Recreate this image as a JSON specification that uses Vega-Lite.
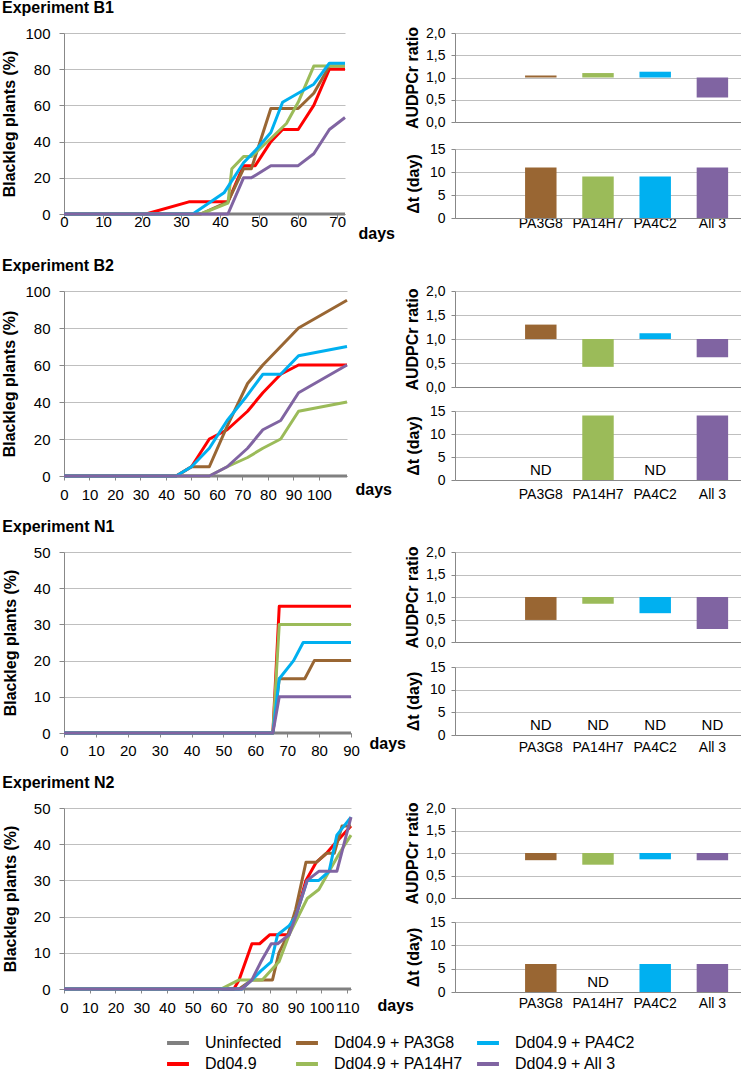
{
"$schema": "https://vega.github.io/schema/vega-lite/v6.json",
"padding": {"left": 1, "top": 0, "right": 0, "bottom": 0},
"background": "white",
"config": {
  "font": "Liberation Sans",
  "view": {"stroke": null},
  "axis": {"domainColor": "#888888", "tickColor": "#888888", "gridColor": "#BFBFBF", "labelColor": "#000000", "titleColor": "#000000", "labelFlush": false, "labelOverlap": false, "labelFont": "Liberation Sans", "titleFont": "Liberation Sans"},
  "title": {"fontSize": 16, "fontWeight": "bold", "anchor": "start", "color": "#000000", "font": "Liberation Sans"}
},
"datasets": {
  "b1": [
    {"d":0,"p":0,"s":"Uninfected"},{"d":72,"p":0,"s":"Uninfected"},
    {"d":0,"p":0,"s":"Dd04.9"},{"d":21,"p":0,"s":"Dd04.9"},{"d":32,"p":6.7,"s":"Dd04.9"},{"d":42,"p":6.7,"s":"Dd04.9"},{"d":46,"p":26.7,"s":"Dd04.9"},{"d":49,"p":26.7,"s":"Dd04.9"},{"d":53,"p":40,"s":"Dd04.9"},{"d":56,"p":46.7,"s":"Dd04.9"},{"d":60,"p":46.7,"s":"Dd04.9"},{"d":64,"p":60,"s":"Dd04.9"},{"d":68,"p":80,"s":"Dd04.9"},{"d":72,"p":80,"s":"Dd04.9"},
    {"d":0,"p":0,"s":"Dd04.9 + PA3G8"},{"d":35,"p":0,"s":"Dd04.9 + PA3G8"},{"d":42,"p":6.7,"s":"Dd04.9 + PA3G8"},{"d":46,"p":25,"s":"Dd04.9 + PA3G8"},{"d":48,"p":25,"s":"Dd04.9 + PA3G8"},{"d":53,"p":58.3,"s":"Dd04.9 + PA3G8"},{"d":60,"p":58.3,"s":"Dd04.9 + PA3G8"},{"d":64,"p":66.7,"s":"Dd04.9 + PA3G8"},{"d":68,"p":81.7,"s":"Dd04.9 + PA3G8"},{"d":72,"p":81.7,"s":"Dd04.9 + PA3G8"},
    {"d":0,"p":0,"s":"Dd04.9 + PA14H7"},{"d":35,"p":0,"s":"Dd04.9 + PA14H7"},{"d":42,"p":6,"s":"Dd04.9 + PA14H7"},{"d":43,"p":25,"s":"Dd04.9 + PA14H7"},{"d":46,"p":31.7,"s":"Dd04.9 + PA14H7"},{"d":48,"p":31.7,"s":"Dd04.9 + PA14H7"},{"d":53,"p":41.7,"s":"Dd04.9 + PA14H7"},{"d":57,"p":50,"s":"Dd04.9 + PA14H7"},{"d":60,"p":61.7,"s":"Dd04.9 + PA14H7"},{"d":64,"p":81.7,"s":"Dd04.9 + PA14H7"},{"d":72,"p":81.7,"s":"Dd04.9 + PA14H7"},
    {"d":0,"p":0,"s":"Dd04.9 + PA4C2"},{"d":33,"p":0,"s":"Dd04.9 + PA4C2"},{"d":41,"p":11.7,"s":"Dd04.9 + PA4C2"},{"d":46,"p":28.3,"s":"Dd04.9 + PA4C2"},{"d":49,"p":35,"s":"Dd04.9 + PA4C2"},{"d":53,"p":45,"s":"Dd04.9 + PA4C2"},{"d":56,"p":61.7,"s":"Dd04.9 + PA4C2"},{"d":60,"p":66.7,"s":"Dd04.9 + PA4C2"},{"d":64,"p":71.7,"s":"Dd04.9 + PA4C2"},{"d":68,"p":83.3,"s":"Dd04.9 + PA4C2"},{"d":72,"p":83.3,"s":"Dd04.9 + PA4C2"},
    {"d":0,"p":0,"s":"Dd04.9 + All 3"},{"d":42,"p":0,"s":"Dd04.9 + All 3"},{"d":46,"p":20,"s":"Dd04.9 + All 3"},{"d":48,"p":20,"s":"Dd04.9 + All 3"},{"d":53,"p":26.7,"s":"Dd04.9 + All 3"},{"d":60,"p":26.7,"s":"Dd04.9 + All 3"},{"d":64,"p":33.3,"s":"Dd04.9 + All 3"},{"d":68,"p":46.7,"s":"Dd04.9 + All 3"},{"d":72,"p":53.3,"s":"Dd04.9 + All 3"}
  ],
  "b2": [
    {"d":0,"p":0,"s":"Uninfected"},{"d":111,"p":0,"s":"Uninfected"},
    {"d":0,"p":0,"s":"Dd04.9"},{"d":44,"p":0,"s":"Dd04.9"},{"d":50,"p":5,"s":"Dd04.9"},{"d":57,"p":20,"s":"Dd04.9"},{"d":64,"p":25,"s":"Dd04.9"},{"d":72,"p":35,"s":"Dd04.9"},{"d":78,"p":45,"s":"Dd04.9"},{"d":85,"p":55,"s":"Dd04.9"},{"d":92,"p":60,"s":"Dd04.9"},{"d":111,"p":60,"s":"Dd04.9"},
    {"d":0,"p":0,"s":"Dd04.9 + PA3G8"},{"d":44,"p":0,"s":"Dd04.9 + PA3G8"},{"d":50,"p":5,"s":"Dd04.9 + PA3G8"},{"d":57,"p":5,"s":"Dd04.9 + PA3G8"},{"d":64,"p":27,"s":"Dd04.9 + PA3G8"},{"d":72,"p":50,"s":"Dd04.9 + PA3G8"},{"d":78,"p":60,"s":"Dd04.9 + PA3G8"},{"d":85,"p":70,"s":"Dd04.9 + PA3G8"},{"d":92,"p":80,"s":"Dd04.9 + PA3G8"},{"d":111,"p":95,"s":"Dd04.9 + PA3G8"},
    {"d":0,"p":0,"s":"Dd04.9 + PA14H7"},{"d":57,"p":0,"s":"Dd04.9 + PA14H7"},{"d":64,"p":5,"s":"Dd04.9 + PA14H7"},{"d":72,"p":10,"s":"Dd04.9 + PA14H7"},{"d":78,"p":15,"s":"Dd04.9 + PA14H7"},{"d":85,"p":20,"s":"Dd04.9 + PA14H7"},{"d":92,"p":35,"s":"Dd04.9 + PA14H7"},{"d":111,"p":40,"s":"Dd04.9 + PA14H7"},
    {"d":0,"p":0,"s":"Dd04.9 + PA4C2"},{"d":44,"p":0,"s":"Dd04.9 + PA4C2"},{"d":50,"p":5,"s":"Dd04.9 + PA4C2"},{"d":57,"p":15,"s":"Dd04.9 + PA4C2"},{"d":64,"p":30,"s":"Dd04.9 + PA4C2"},{"d":71,"p":42,"s":"Dd04.9 + PA4C2"},{"d":78,"p":55,"s":"Dd04.9 + PA4C2"},{"d":85,"p":55,"s":"Dd04.9 + PA4C2"},{"d":92,"p":65,"s":"Dd04.9 + PA4C2"},{"d":111,"p":70,"s":"Dd04.9 + PA4C2"},
    {"d":0,"p":0,"s":"Dd04.9 + All 3"},{"d":57,"p":0,"s":"Dd04.9 + All 3"},{"d":64,"p":5,"s":"Dd04.9 + All 3"},{"d":72,"p":15,"s":"Dd04.9 + All 3"},{"d":78,"p":25,"s":"Dd04.9 + All 3"},{"d":85,"p":30,"s":"Dd04.9 + All 3"},{"d":92,"p":45,"s":"Dd04.9 + All 3"},{"d":111,"p":60,"s":"Dd04.9 + All 3"}
  ],
  "n1": [
    {"d":0,"p":0,"s":"Uninfected"},{"d":90,"p":0,"s":"Uninfected"},
    {"d":0,"p":0,"s":"Dd04.9"},{"d":65.5,"p":0,"s":"Dd04.9"},{"d":67.5,"p":35,"s":"Dd04.9"},{"d":90,"p":35,"s":"Dd04.9"},
    {"d":0,"p":0,"s":"Dd04.9 + PA3G8"},{"d":65.5,"p":0,"s":"Dd04.9 + PA3G8"},{"d":67.5,"p":15,"s":"Dd04.9 + PA3G8"},{"d":75.5,"p":15,"s":"Dd04.9 + PA3G8"},{"d":78.5,"p":20,"s":"Dd04.9 + PA3G8"},{"d":90,"p":20,"s":"Dd04.9 + PA3G8"},
    {"d":0,"p":0,"s":"Dd04.9 + PA14H7"},{"d":65.5,"p":0,"s":"Dd04.9 + PA14H7"},{"d":67.5,"p":30,"s":"Dd04.9 + PA14H7"},{"d":90,"p":30,"s":"Dd04.9 + PA14H7"},
    {"d":0,"p":0,"s":"Dd04.9 + PA4C2"},{"d":65.5,"p":0,"s":"Dd04.9 + PA4C2"},{"d":67.5,"p":15,"s":"Dd04.9 + PA4C2"},{"d":72,"p":20,"s":"Dd04.9 + PA4C2"},{"d":75,"p":25,"s":"Dd04.9 + PA4C2"},{"d":90,"p":25,"s":"Dd04.9 + PA4C2"},
    {"d":0,"p":0,"s":"Dd04.9 + All 3"},{"d":65.5,"p":0,"s":"Dd04.9 + All 3"},{"d":67.5,"p":10,"s":"Dd04.9 + All 3"},{"d":90,"p":10,"s":"Dd04.9 + All 3"}
  ],
  "n2": [
    {"d":0,"p":0,"s":"Uninfected"},{"d":111.5,"p":0,"s":"Uninfected"},
    {"d":0,"p":0,"s":"Dd04.9"},{"d":66,"p":0,"s":"Dd04.9"},{"d":68,"p":2.5,"s":"Dd04.9"},{"d":73,"p":12.5,"s":"Dd04.9"},{"d":76,"p":12.5,"s":"Dd04.9"},{"d":80,"p":15,"s":"Dd04.9"},{"d":83,"p":15,"s":"Dd04.9"},{"d":87,"p":15,"s":"Dd04.9"},{"d":90,"p":20,"s":"Dd04.9"},{"d":94,"p":30,"s":"Dd04.9"},{"d":98,"p":35,"s":"Dd04.9"},{"d":102,"p":37.5,"s":"Dd04.9"},{"d":105,"p":40,"s":"Dd04.9"},{"d":111.5,"p":45,"s":"Dd04.9"},
    {"d":0,"p":0,"s":"Dd04.9 + PA3G8"},{"d":68,"p":0,"s":"Dd04.9 + PA3G8"},{"d":73,"p":2.5,"s":"Dd04.9 + PA3G8"},{"d":81,"p":2.5,"s":"Dd04.9 + PA3G8"},{"d":83.5,"p":10,"s":"Dd04.9 + PA3G8"},{"d":87,"p":15,"s":"Dd04.9 + PA3G8"},{"d":90,"p":22,"s":"Dd04.9 + PA3G8"},{"d":94,"p":35,"s":"Dd04.9 + PA3G8"},{"d":98,"p":35,"s":"Dd04.9 + PA3G8"},{"d":102,"p":37.5,"s":"Dd04.9 + PA3G8"},{"d":105,"p":37.5,"s":"Dd04.9 + PA3G8"},{"d":108,"p":45,"s":"Dd04.9 + PA3G8"},{"d":111.5,"p":45,"s":"Dd04.9 + PA3G8"},
    {"d":0,"p":0,"s":"Dd04.9 + PA14H7"},{"d":61,"p":0,"s":"Dd04.9 + PA14H7"},{"d":68,"p":2.5,"s":"Dd04.9 + PA14H7"},{"d":77,"p":2.5,"s":"Dd04.9 + PA14H7"},{"d":83.5,"p":7.5,"s":"Dd04.9 + PA14H7"},{"d":87.5,"p":15,"s":"Dd04.9 + PA14H7"},{"d":94.5,"p":25,"s":"Dd04.9 + PA14H7"},{"d":99,"p":27.5,"s":"Dd04.9 + PA14H7"},{"d":103,"p":32.5,"s":"Dd04.9 + PA14H7"},{"d":107,"p":37.5,"s":"Dd04.9 + PA14H7"},{"d":111.5,"p":42.5,"s":"Dd04.9 + PA14H7"},
    {"d":0,"p":0,"s":"Dd04.9 + PA4C2"},{"d":69,"p":0,"s":"Dd04.9 + PA4C2"},{"d":73,"p":2.5,"s":"Dd04.9 + PA4C2"},{"d":76.5,"p":5,"s":"Dd04.9 + PA4C2"},{"d":80.5,"p":7.5,"s":"Dd04.9 + PA4C2"},{"d":83,"p":15,"s":"Dd04.9 + PA4C2"},{"d":87.5,"p":17.5,"s":"Dd04.9 + PA4C2"},{"d":90,"p":20,"s":"Dd04.9 + PA4C2"},{"d":94.5,"p":30,"s":"Dd04.9 + PA4C2"},{"d":99,"p":30,"s":"Dd04.9 + PA4C2"},{"d":103,"p":32.5,"s":"Dd04.9 + PA4C2"},{"d":106,"p":42.5,"s":"Dd04.9 + PA4C2"},{"d":111.5,"p":47.5,"s":"Dd04.9 + PA4C2"},
    {"d":0,"p":0,"s":"Dd04.9 + All 3"},{"d":69,"p":0,"s":"Dd04.9 + All 3"},{"d":73,"p":2.5,"s":"Dd04.9 + All 3"},{"d":76.5,"p":7.5,"s":"Dd04.9 + All 3"},{"d":80.5,"p":12.5,"s":"Dd04.9 + All 3"},{"d":83,"p":12.5,"s":"Dd04.9 + All 3"},{"d":87.5,"p":15,"s":"Dd04.9 + All 3"},{"d":90,"p":20,"s":"Dd04.9 + All 3"},{"d":94.5,"p":30,"s":"Dd04.9 + All 3"},{"d":99,"p":32.5,"s":"Dd04.9 + All 3"},{"d":103,"p":32.5,"s":"Dd04.9 + All 3"},{"d":106,"p":32.5,"s":"Dd04.9 + All 3"},{"d":111.5,"p":47.5,"s":"Dd04.9 + All 3"}
  ],
  "b1bar": [
    {"iso":"PA3G8","s":"Dd04.9 + PA3G8","audpc":1.045,"dt":11,"note":""},
    {"iso":"PA14H7","s":"Dd04.9 + PA14H7","audpc":1.10,"dt":9,"note":""},
    {"iso":"PA4C2","s":"Dd04.9 + PA4C2","audpc":1.13,"dt":9,"note":""},
    {"iso":"All 3","s":"Dd04.9 + All 3","audpc":0.55,"dt":11,"note":""}
  ],
  "b2bar": [
    {"iso":"PA3G8","s":"Dd04.9 + PA3G8","audpc":1.30,"dt":null,"note":"ND"},
    {"iso":"PA14H7","s":"Dd04.9 + PA14H7","audpc":0.42,"dt":14,"note":""},
    {"iso":"PA4C2","s":"Dd04.9 + PA4C2","audpc":1.12,"dt":null,"note":"ND"},
    {"iso":"All 3","s":"Dd04.9 + All 3","audpc":0.62,"dt":14,"note":""}
  ],
  "n1bar": [
    {"iso":"PA3G8","s":"Dd04.9 + PA3G8","audpc":0.49,"dt":null,"note":"ND"},
    {"iso":"PA14H7","s":"Dd04.9 + PA14H7","audpc":0.85,"dt":null,"note":"ND"},
    {"iso":"PA4C2","s":"Dd04.9 + PA4C2","audpc":0.64,"dt":null,"note":"ND"},
    {"iso":"All 3","s":"Dd04.9 + All 3","audpc":0.29,"dt":null,"note":"ND"}
  ],
  "n2bar": [
    {"iso":"PA3G8","s":"Dd04.9 + PA3G8","audpc":0.84,"dt":6,"note":""},
    {"iso":"PA14H7","s":"Dd04.9 + PA14H7","audpc":0.74,"dt":null,"note":"ND"},
    {"iso":"PA4C2","s":"Dd04.9 + PA4C2","audpc":0.86,"dt":6,"note":""},
    {"iso":"All 3","s":"Dd04.9 + All 3","audpc":0.84,"dt":6,"note":""}
  ]
},
"spacing": 17,
"vconcat": [
  {
    "title": {"text": "Experiment B1", "offset": 10},
    "spacing": 110, "bounds": "flush",
    "hconcat": [
      {
        "width": 281, "height": 181,
        "data": {"name": "b1"},
        "mark": {"type": "line", "strokeWidth": 3, "strokeJoin": "round"},
        "encoding": {
          "x": {"field": "d", "type": "quantitative", "scale": {"domain": [0, 72], "nice": false, "zero": false},
                "axis": {"values": [0,10,20,30,40,50,60,70], "grid": false, "title": "days", "titleFontSize": 16, "titleFontWeight": "bold", "titleAlign": "left", "titleBaseline": "middle", "titleX": 294, "titleY": 19, "labelFontSize": 15, "tickSize": 4, "labelPadding": -4}},
          "y": {"field": "p", "type": "quantitative", "scale": {"domain": [0, 100], "nice": false},
                "axis": {"values": [0,20,40,60,80,100], "title": "Blackleg plants (%)", "titleFontSize": 16, "titleFontWeight": "bold", "labelFontSize": 15, "tickSize": 5, "labelPadding": 9, "titlePadding": 7}},
          "color": {"field": "s", "type": "nominal",
                    "scale": {"domain": ["Uninfected","Dd04.9","Dd04.9 + PA3G8","Dd04.9 + PA14H7","Dd04.9 + PA4C2","Dd04.9 + All 3"], "range": ["#808080","#FF0000","#996633","#9BBB59","#00B0F0","#8064A2"]},
                    "legend": {"title": null, "orient": "none", "legendX": 101, "legendY": 997, "columns": 3, "symbolType": "stroke", "symbolStrokeWidth": 4, "symbolSize": 480, "labelFontSize": 16, "labelOffset": 14, "columnPadding": 6, "rowPadding": 0, "labelColor": "#000000"}}
        }
      },
      {
        "spacing": 27, "bounds": "flush",
        "vconcat": [
          {
            "width": 286, "height": 89,
            "data": {"name": "b1bar"},
            "mark": {"type": "bar"},
            "encoding": {
              "x": {"field": "iso", "type": "nominal", "scale": {"domain": [" ","PA3G8","PA14H7","PA4C2","All 3"], "paddingInner": 0.45, "paddingOuter": 0.225}, "axis": {"labels": false, "ticks": false, "title": null}},
              "y": {"field": "audpc", "type": "quantitative", "scale": {"domain": [0, 2], "nice": false}, "axis": {"values": [0,0.5,1,1.5,2], "labelExpr": "replace(format(datum.value,'.1f'),'.',',')", "title": "AUDPCr ratio", "titleFontSize": 16, "titleFontWeight": "bold", "labelFontSize": 14, "tickSize": 4, "labelPadding": 6, "titlePadding": 5}},
              "y2": {"datum": 1},
              "fill": {"field": "s", "type": "nominal", "scale": {"domain": ["Uninfected","Dd04.9","Dd04.9 + PA3G8","Dd04.9 + PA14H7","Dd04.9 + PA4C2","Dd04.9 + All 3"], "range": ["#808080","#FF0000","#996633","#9BBB59","#00B0F0","#8064A2"]}, "legend": null}
            }
          },
          {
            "width": 286, "height": 69,
            "data": {"name": "b1bar"},
            "encoding": {
              "x": {"field": "iso", "type": "nominal", "scale": {"domain": [" ","PA3G8","PA14H7","PA4C2","All 3"], "paddingInner": 0.45, "paddingOuter": 0.225}, "axis": {"ticks": false, "title": null, "labelAngle": 0, "labelFontSize": 14, "labelPadding": -2}}
            },
            "layer": [
              {
                "mark": {"type": "bar"},
                "encoding": {
                  "y": {"field": "dt", "type": "quantitative", "scale": {"domain": [0, 15], "nice": false}, "axis": {"values": [0,5,10,15], "title": "Δt (day)", "titleFontSize": 16, "titleFontWeight": "bold", "labelFontSize": 14, "tickSize": 4, "labelPadding": 6, "titlePadding": 8}},
                  "fill": {"field": "s", "type": "nominal", "scale": {"domain": ["Uninfected","Dd04.9","Dd04.9 + PA3G8","Dd04.9 + PA14H7","Dd04.9 + PA4C2","Dd04.9 + All 3"], "range": ["#808080","#FF0000","#996633","#9BBB59","#00B0F0","#8064A2"]}, "legend": null}
                }
              },
              {
                "transform": [{"filter": "datum.note == 'ND'"}],
                "mark": {"type": "text", "fontSize": 15, "baseline": "middle", "color": "#000000"},
                "encoding": {"y": {"datum": 2.2, "type": "quantitative", "axis": {"values": [0,5,10,15], "title": "Δt (day)", "titleFontSize": 16, "titleFontWeight": "bold", "labelFontSize": 14, "tickSize": 4, "labelPadding": 6, "titlePadding": 8}}, "text": {"field": "note"}}
              }
            ]
          }
        ]
      }
    ]
  },
  {
    "title": {"text": "Experiment B2", "offset": 10},
    "spacing": 108, "bounds": "flush",
    "hconcat": [
      {
        "width": 283, "height": 185,
        "data": {"name": "b2"},
        "mark": {"type": "line", "strokeWidth": 3, "strokeJoin": "round"},
        "encoding": {
          "x": {"field": "d", "type": "quantitative", "scale": {"domain": [0, 111], "nice": false, "zero": false},
                "axis": {"values": [0,10,20,30,40,50,60,70,80,90,100], "grid": false, "title": "days", "titleFontSize": 16, "titleFontWeight": "bold", "titleAlign": "left", "titleBaseline": "middle", "titleX": 291, "titleY": 13, "labelFontSize": 15, "tickSize": 4, "labelPadding": 7}},
          "y": {"field": "p", "type": "quantitative", "scale": {"domain": [0, 100], "nice": false},
                "axis": {"values": [0,20,40,60,80,100], "title": "Blackleg plants (%)", "titleFontSize": 16, "titleFontWeight": "bold", "labelFontSize": 15, "tickSize": 5, "labelPadding": 9, "titlePadding": 7}},
          "color": {"field": "s", "type": "nominal",
                    "scale": {"domain": ["Uninfected","Dd04.9","Dd04.9 + PA3G8","Dd04.9 + PA14H7","Dd04.9 + PA4C2","Dd04.9 + All 3"], "range": ["#808080","#FF0000","#996633","#9BBB59","#00B0F0","#8064A2"]},
                    "legend": {"title": null, "orient": "none", "legendX": 101, "legendY": 997, "columns": 3, "symbolType": "stroke", "symbolStrokeWidth": 4, "symbolSize": 480, "labelFontSize": 16, "labelOffset": 14, "columnPadding": 6, "rowPadding": 0, "labelColor": "#000000"}}
        }
      },
      {
        "spacing": 24, "bounds": "flush",
        "vconcat": [
          {
            "width": 286, "height": 96,
            "data": {"name": "b2bar"},
            "mark": {"type": "bar"},
            "encoding": {
              "x": {"field": "iso", "type": "nominal", "scale": {"domain": [" ","PA3G8","PA14H7","PA4C2","All 3"], "paddingInner": 0.45, "paddingOuter": 0.225}, "axis": {"labels": false, "ticks": false, "title": null}},
              "y": {"field": "audpc", "type": "quantitative", "scale": {"domain": [0, 2], "nice": false}, "axis": {"values": [0,0.5,1,1.5,2], "labelExpr": "replace(format(datum.value,'.1f'),'.',',')", "title": "AUDPCr ratio", "titleFontSize": 16, "titleFontWeight": "bold", "labelFontSize": 14, "tickSize": 4, "labelPadding": 6, "titlePadding": 5}},
              "y2": {"datum": 1},
              "fill": {"field": "s", "type": "nominal", "scale": {"domain": ["Uninfected","Dd04.9","Dd04.9 + PA3G8","Dd04.9 + PA14H7","Dd04.9 + PA4C2","Dd04.9 + All 3"], "range": ["#808080","#FF0000","#996633","#9BBB59","#00B0F0","#8064A2"]}, "legend": null}
            }
          },
          {
            "width": 286, "height": 69,
            "data": {"name": "b2bar"},
            "encoding": {
              "x": {"field": "iso", "type": "nominal", "scale": {"domain": [" ","PA3G8","PA14H7","PA4C2","All 3"], "paddingInner": 0.45, "paddingOuter": 0.225}, "axis": {"ticks": false, "title": null, "labelAngle": 0, "labelFontSize": 14, "labelPadding": 7}}
            },
            "layer": [
              {
                "mark": {"type": "bar"},
                "encoding": {
                  "y": {"field": "dt", "type": "quantitative", "scale": {"domain": [0, 15], "nice": false}, "axis": {"values": [0,5,10,15], "title": "Δt (day)", "titleFontSize": 16, "titleFontWeight": "bold", "labelFontSize": 14, "tickSize": 4, "labelPadding": 6, "titlePadding": 8}},
                  "fill": {"field": "s", "type": "nominal", "scale": {"domain": ["Uninfected","Dd04.9","Dd04.9 + PA3G8","Dd04.9 + PA14H7","Dd04.9 + PA4C2","Dd04.9 + All 3"], "range": ["#808080","#FF0000","#996633","#9BBB59","#00B0F0","#8064A2"]}, "legend": null}
                }
              },
              {
                "transform": [{"filter": "datum.note == 'ND'"}],
                "mark": {"type": "text", "fontSize": 15, "baseline": "middle", "color": "#000000"},
                "encoding": {"y": {"datum": 2.2, "type": "quantitative", "axis": {"values": [0,5,10,15], "title": "Δt (day)", "titleFontSize": 16, "titleFontWeight": "bold", "labelFontSize": 14, "tickSize": 4, "labelPadding": 6, "titlePadding": 8}}, "text": {"field": "note"}}
              }
            ]
          }
        ]
      }
    ]
  },
  {
    "title": {"text": "Experiment N1", "offset": 10},
    "spacing": 104, "bounds": "flush",
    "hconcat": [
      {
        "width": 287, "height": 181,
        "data": {"name": "n1"},
        "mark": {"type": "line", "strokeWidth": 3, "strokeJoin": "round"},
        "encoding": {
          "x": {"field": "d", "type": "quantitative", "scale": {"domain": [0, 90], "nice": false, "zero": false},
                "axis": {"values": [0,10,20,30,40,50,60,70,80,90], "grid": false, "title": "days", "titleFontSize": 16, "titleFontWeight": "bold", "titleAlign": "left", "titleBaseline": "middle", "titleX": 305, "titleY": 10, "labelFontSize": 15, "tickSize": 4, "labelPadding": 6}},
          "y": {"field": "p", "type": "quantitative", "scale": {"domain": [0, 50], "nice": false},
                "axis": {"values": [0,10,20,30,40,50], "title": "Blackleg plants (%)", "titleFontSize": 16, "titleFontWeight": "bold", "labelFontSize": 15, "tickSize": 5, "labelPadding": 9, "titlePadding": 15}},
          "color": {"field": "s", "type": "nominal",
                    "scale": {"domain": ["Uninfected","Dd04.9","Dd04.9 + PA3G8","Dd04.9 + PA14H7","Dd04.9 + PA4C2","Dd04.9 + All 3"], "range": ["#808080","#FF0000","#996633","#9BBB59","#00B0F0","#8064A2"]},
                    "legend": {"title": null, "orient": "none", "legendX": 101, "legendY": 997, "columns": 3, "symbolType": "stroke", "symbolStrokeWidth": 4, "symbolSize": 480, "labelFontSize": 16, "labelOffset": 14, "columnPadding": 6, "rowPadding": 0, "labelColor": "#000000"}}
        }
      },
      {
        "spacing": 25, "bounds": "flush",
        "vconcat": [
          {
            "width": 286, "height": 90,
            "data": {"name": "n1bar"},
            "mark": {"type": "bar"},
            "encoding": {
              "x": {"field": "iso", "type": "nominal", "scale": {"domain": [" ","PA3G8","PA14H7","PA4C2","All 3"], "paddingInner": 0.45, "paddingOuter": 0.225}, "axis": {"labels": false, "ticks": false, "title": null}},
              "y": {"field": "audpc", "type": "quantitative", "scale": {"domain": [0, 2], "nice": false}, "axis": {"values": [0,0.5,1,1.5,2], "labelExpr": "replace(format(datum.value,'.1f'),'.',',')", "title": "AUDPCr ratio", "titleFontSize": 16, "titleFontWeight": "bold", "labelFontSize": 14, "tickSize": 4, "labelPadding": 6, "titlePadding": 5}},
              "y2": {"datum": 1},
              "fill": {"field": "s", "type": "nominal", "scale": {"domain": ["Uninfected","Dd04.9","Dd04.9 + PA3G8","Dd04.9 + PA14H7","Dd04.9 + PA4C2","Dd04.9 + All 3"], "range": ["#808080","#FF0000","#996633","#9BBB59","#00B0F0","#8064A2"]}, "legend": null}
            }
          },
          {
            "width": 286, "height": 68,
            "data": {"name": "n1bar"},
            "encoding": {
              "x": {"field": "iso", "type": "nominal", "scale": {"domain": [" ","PA3G8","PA14H7","PA4C2","All 3"], "paddingInner": 0.45, "paddingOuter": 0.225}, "axis": {"ticks": false, "title": null, "labelAngle": 0, "labelFontSize": 14, "labelPadding": 5}}
            },
            "layer": [
              {
                "mark": {"type": "bar"},
                "encoding": {
                  "y": {"field": "dt", "type": "quantitative", "scale": {"domain": [0, 15], "nice": false}, "axis": {"values": [0,5,10,15], "title": "Δt (day)", "titleFontSize": 16, "titleFontWeight": "bold", "labelFontSize": 14, "tickSize": 4, "labelPadding": 6, "titlePadding": 8}},
                  "fill": {"field": "s", "type": "nominal", "scale": {"domain": ["Uninfected","Dd04.9","Dd04.9 + PA3G8","Dd04.9 + PA14H7","Dd04.9 + PA4C2","Dd04.9 + All 3"], "range": ["#808080","#FF0000","#996633","#9BBB59","#00B0F0","#8064A2"]}, "legend": null}
                }
              },
              {
                "transform": [{"filter": "datum.note == 'ND'"}],
                "mark": {"type": "text", "fontSize": 15, "baseline": "middle", "color": "#000000"},
                "encoding": {"y": {"datum": 2.2, "type": "quantitative", "axis": {"values": [0,5,10,15], "title": "Δt (day)", "titleFontSize": 16, "titleFontWeight": "bold", "labelFontSize": 14, "tickSize": 4, "labelPadding": 6, "titlePadding": 8}}, "text": {"field": "note"}}
              }
            ]
          }
        ]
      }
    ]
  },
  {
    "title": {"text": "Experiment N2", "offset": 10},
    "spacing": 104, "bounds": "flush",
    "hconcat": [
      {
        "width": 287, "height": 181,
        "data": {"name": "n2"},
        "mark": {"type": "line", "strokeWidth": 3, "strokeJoin": "round"},
        "encoding": {
          "x": {"field": "d", "type": "quantitative", "scale": {"domain": [0, 111.5], "nice": false, "zero": false},
                "axis": {"values": [0,10,20,30,40,50,60,70,80,90,100,110], "grid": false, "title": "days", "titleFontSize": 16, "titleFontWeight": "bold", "titleAlign": "left", "titleBaseline": "middle", "titleX": 313, "titleY": 16, "labelFontSize": 15, "tickSize": 4, "labelPadding": 7}},
          "y": {"field": "p", "type": "quantitative", "scale": {"domain": [0, 50], "nice": false},
                "axis": {"values": [0,10,20,30,40,50], "title": "Blackleg plants (%)", "titleFontSize": 16, "titleFontWeight": "bold", "labelFontSize": 15, "tickSize": 5, "labelPadding": 9, "titlePadding": 15}},
          "color": {"field": "s", "type": "nominal",
                    "scale": {"domain": ["Uninfected","Dd04.9","Dd04.9 + PA3G8","Dd04.9 + PA14H7","Dd04.9 + PA4C2","Dd04.9 + All 3"], "range": ["#808080","#FF0000","#996633","#9BBB59","#00B0F0","#8064A2"]},
                    "legend": {"title": null, "orient": "none", "legendX": 101, "legendY": 997, "columns": 3, "symbolType": "stroke", "symbolStrokeWidth": 4, "symbolSize": 480, "labelFontSize": 16, "labelOffset": 14, "columnPadding": 6, "rowPadding": 0, "labelColor": "#000000"}}
        }
      },
      {
        "spacing": 24, "bounds": "flush",
        "vconcat": [
          {
            "width": 286, "height": 90,
            "data": {"name": "n2bar"},
            "mark": {"type": "bar"},
            "encoding": {
              "x": {"field": "iso", "type": "nominal", "scale": {"domain": [" ","PA3G8","PA14H7","PA4C2","All 3"], "paddingInner": 0.45, "paddingOuter": 0.225}, "axis": {"labels": false, "ticks": false, "title": null}},
              "y": {"field": "audpc", "type": "quantitative", "scale": {"domain": [0, 2], "nice": false}, "axis": {"values": [0,0.5,1,1.5,2], "labelExpr": "replace(format(datum.value,'.1f'),'.',',')", "title": "AUDPCr ratio", "titleFontSize": 16, "titleFontWeight": "bold", "labelFontSize": 14, "tickSize": 4, "labelPadding": 6, "titlePadding": 5}},
              "y2": {"datum": 1},
              "fill": {"field": "s", "type": "nominal", "scale": {"domain": ["Uninfected","Dd04.9","Dd04.9 + PA3G8","Dd04.9 + PA14H7","Dd04.9 + PA4C2","Dd04.9 + All 3"], "range": ["#808080","#FF0000","#996633","#9BBB59","#00B0F0","#8064A2"]}, "legend": null}
            }
          },
          {
            "width": 286, "height": 70,
            "data": {"name": "n2bar"},
            "encoding": {
              "x": {"field": "iso", "type": "nominal", "scale": {"domain": [" ","PA3G8","PA14H7","PA4C2","All 3"], "paddingInner": 0.45, "paddingOuter": 0.225}, "axis": {"ticks": false, "title": null, "labelAngle": 0, "labelFontSize": 14, "labelPadding": 4}}
            },
            "layer": [
              {
                "mark": {"type": "bar"},
                "encoding": {
                  "y": {"field": "dt", "type": "quantitative", "scale": {"domain": [0, 15], "nice": false}, "axis": {"values": [0,5,10,15], "title": "Δt (day)", "titleFontSize": 16, "titleFontWeight": "bold", "labelFontSize": 14, "tickSize": 4, "labelPadding": 6, "titlePadding": 8}},
                  "fill": {"field": "s", "type": "nominal", "scale": {"domain": ["Uninfected","Dd04.9","Dd04.9 + PA3G8","Dd04.9 + PA14H7","Dd04.9 + PA4C2","Dd04.9 + All 3"], "range": ["#808080","#FF0000","#996633","#9BBB59","#00B0F0","#8064A2"]}, "legend": null}
                }
              },
              {
                "transform": [{"filter": "datum.note == 'ND'"}],
                "mark": {"type": "text", "fontSize": 15, "baseline": "middle", "color": "#000000"},
                "encoding": {"y": {"datum": 2.2, "type": "quantitative", "axis": {"values": [0,5,10,15], "title": "Δt (day)", "titleFontSize": 16, "titleFontWeight": "bold", "labelFontSize": 14, "tickSize": 4, "labelPadding": 6, "titlePadding": 8}}, "text": {"field": "note"}}
              }
            ]
          }
        ]
      }
    ]
  }
]
}
